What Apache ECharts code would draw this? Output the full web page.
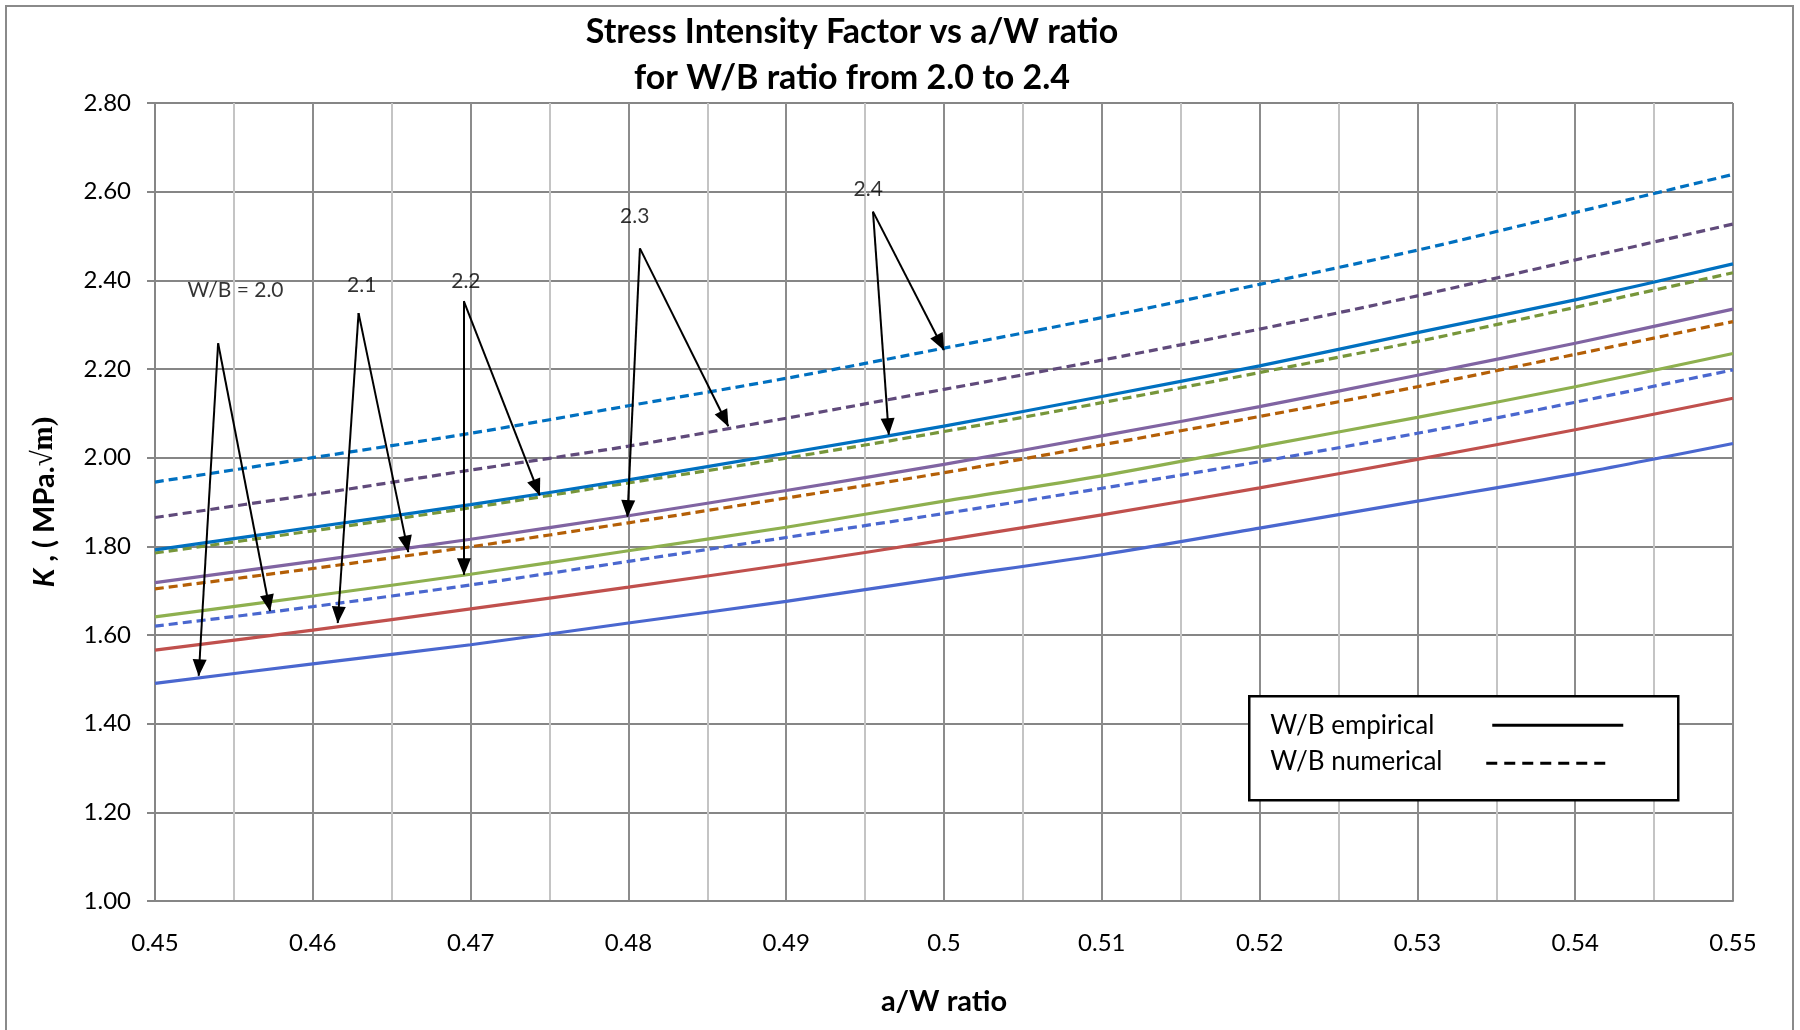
<!DOCTYPE html>
<html>
<head>
<meta charset="utf-8">
<script src="https://cdn.jsdelivr.net/npm/echarts@6/dist/echarts.min.js"></script>
<style>
	html, body { margin: 0; padding: 0; background: #fff; }
	#main { width: 1800px; height: 1030px; }
</style>
</head>
<body>
<div id="main"></div>
<script>
	// a/W ratio
	var aw = [0.45, 0.46, 0.47, 0.48, 0.49, 0.50, 0.51, 0.52, 0.53, 0.54, 0.55];

	// K values, empirical (solid) and numerical (dashed), per W/B
	var emp20 = [1.491, 1.535, 1.578, 1.627, 1.676, 1.729, 1.781, 1.841, 1.902, 1.963, 2.032];
	var num20 = [1.620, 1.664, 1.713, 1.766, 1.820, 1.874, 1.931, 1.991, 2.055, 2.125, 2.198];
	var emp21 = [1.566, 1.611, 1.659, 1.708, 1.759, 1.814, 1.871, 1.932, 1.996, 2.063, 2.134];
	var num21 = [1.704, 1.750, 1.799, 1.853, 1.909, 1.966, 2.029, 2.093, 2.160, 2.233, 2.307];
	var emp22 = [1.641, 1.688, 1.737, 1.790, 1.843, 1.902, 1.959, 2.025, 2.091, 2.160, 2.235];
	var num22 = [1.785, 1.835, 1.887, 1.943, 1.999, 2.059, 2.124, 2.192, 2.262, 2.339, 2.417];
	var emp23 = [1.718, 1.766, 1.816, 1.869, 1.926, 1.985, 2.049, 2.115, 2.186, 2.258, 2.335];
	var num23 = [1.865, 1.917, 1.972, 2.026, 2.089, 2.154, 2.220, 2.290, 2.365, 2.446, 2.527];
	var emp24 = [1.792, 1.843, 1.894, 1.950, 2.010, 2.071, 2.138, 2.207, 2.282, 2.356, 2.437];
	var num24 = [1.945, 2.000, 2.055, 2.117, 2.179, 2.247, 2.316, 2.391, 2.468, 2.553, 2.639];

	// annotation labels [x, y, text]
	var noteLabels = [
		[0.4551, 2.377, 'W/B = 2.0'],
		[0.4631, 2.389, '2.1'],
		[0.4697, 2.398, '2.2'],
		[0.4804, 2.544, '2.3'],
		[0.4952, 2.605, '2.4']
	];
	// arrows: apex -> tip on the empirical curve, apex -> tip on the numerical curve
	var noteArrows = [
		[[0.4540, 2.258], [0.45277, 1.508], [0.45729, 1.654]],
		[[0.4629, 2.326], [0.46158, 1.627], [0.46605, 1.787]],
		[[0.46957, 2.353], [0.46958, 1.736], [0.47438, 1.915]],
		[[0.48073, 2.472], [0.47994, 1.867], [0.48633, 2.071]],
		[[0.4955, 2.555], [0.4965, 2.052], [0.5000, 2.243]]
	];

	var font = 'Lato, "Open Sans", sans-serif';

	function pairs(ys) {
		var out = [];
		for (var i = 0; i < aw.length; i++) {
			out.push([aw[i], ys[i]]);
		}
		return out;
	}

	function curve(name, ys, color, dashed) {
		return {
			name: name,
			type: 'line',
			data: pairs(ys),
			smooth: 0.3,
			showSymbol: false,
			silent: true,
			lineStyle: {
				color: color,
				width: 3.2,
				type: dashed ? [9, 5] : 'solid'
			}
		};
	}

	var arrowLines = [];
	for (var i = 0; i < noteArrows.length; i++) {
		var a = noteArrows[i];
		arrowLines.push([{ coord: a[0] }, { coord: a[1] }]);
		arrowLines.push([{ coord: a[0] }, { coord: a[2] }]);
	}

	var chart = echarts.init(document.getElementById('main'));
	var option = {
		animation: false,
		backgroundColor: '#fff',
		title: {
			text: 'Stress Intensity Factor vs a/W ratio\nfor W/B ratio from 2.0 to 2.4',
			left: 852,
			top: 9,
			padding: 0,
			textAlign: 'center',
			textStyle: {
				fontFamily: font,
				fontWeight: 'bold',
				fontSize: 34,
				lineHeight: 46,
				color: '#000'
			}
		},
		grid: {
			left: 155,
			top: 103,
			width: 1578,
			height: 798,
			containLabel: false
		},
		xAxis: {
			type: 'value',
			min: 0.45,
			max: 0.55,
			interval: 0.01,
			name: 'a/W ratio',
			nameLocation: 'middle',
			nameGap: 86,
			nameTextStyle: {
				fontFamily: font,
				fontWeight: 'bold',
				fontSize: 29,
				color: '#000'
			},
			axisLine: { show: true, lineStyle: { color: '#868686', width: 2 } },
			axisTick: { show: false },
			axisLabel: {
				margin: 30,
				fontFamily: font,
				fontSize: 24,
				color: '#000',
				formatter: function(v) {
					return String(+v.toFixed(2));
				}
			},
			splitLine: { show: true, lineStyle: { color: '#8c8c8c', width: 2 } },
			minorTick: { show: false, splitNumber: 2 },
			minorSplitLine: { show: true, lineStyle: { color: '#c4c4c4', width: 2 } }
		},
		yAxis: {
			type: 'value',
			min: 1.0,
			max: 2.8,
			interval: 0.2,
			name: '{k|K}{b| , ( MPa.}{s|√m)}',
			nameLocation: 'middle',
			nameGap: 96,
			nameRotate: 90,
			nameTextStyle: {
				color: '#000',
				rich: {
					k: { fontFamily: font, fontWeight: 'bold', fontStyle: 'italic', fontSize: 29, color: '#000' },
					b: { fontFamily: font, fontWeight: 'bold', fontSize: 29, color: '#000' },
					s: { fontFamily: '"Liberation Serif", "DejaVu Serif", serif', fontWeight: 'bold', fontSize: 29, color: '#000' }
				}
			},
			axisLine: { show: true, lineStyle: { color: '#868686', width: 2 } },
			axisTick: { show: true, length: 8, lineStyle: { color: '#868686', width: 2 } },
			axisLabel: {
				margin: 24,
				fontFamily: font,
				fontSize: 24,
				color: '#000',
				formatter: function(v) {
					return v.toFixed(2);
				}
			},
			splitLine: { show: true, lineStyle: { color: '#868686', width: 2 } }
		},
		series: [
			curve('W/B 2.0 empirical', emp20, '#4a67cf', false),
			curve('W/B 2.1 empirical', emp21, '#c0504d', false),
			curve('W/B 2.0 numerical', num20, '#4a67cf', true),
			curve('W/B 2.2 empirical', emp22, '#8eb04f', false),
			curve('W/B 2.1 numerical', num21, '#b45f06', true),
			curve('W/B 2.3 empirical', emp23, '#8064a2', false),
			curve('W/B 2.2 numerical', num22, '#77963a', true),
			curve('W/B 2.4 empirical', emp24, '#0070c0', false),
			curve('W/B 2.3 numerical', num23, '#604a7b', true),
			curve('W/B 2.4 numerical', num24, '#0070c0', true),
			{
				name: 'notes',
				type: 'scatter',
				silent: true,
				symbolSize: 0,
				z: 5,
				data: noteLabels.map(function(n) {
					return { value: [n[0], n[1]], name: n[2] };
				}),
				label: {
					show: true,
					position: 'inside',
					formatter: '{b}',
					fontFamily: font,
					fontSize: 21,
					color: '#000'
				},
				markLine: {
					silent: true,
					animation: false,
					symbol: ['none', 'triangle'],
					symbolSize: [14, 17],
					symbolOffset: [[0, 0], [0, 8]],
					label: { show: false },
					lineStyle: { color: '#000', width: 2, type: 'solid' },
					emphasis: { disabled: true },
					data: arrowLines
				}
			}
		],
		graphic: [
			{
				type: 'rect',
				shape: { x: 6, y: 6, width: 1787, height: 1040 },
				style: { fill: null, stroke: '#8a8a8a', lineWidth: 2 },
				silent: true
			},
			{
				type: 'group',
				left: 1248,
				top: 695,
				z: 100,
				children: [
					{
						type: 'rect',
						z: 100,
						shape: { x: 0, y: 0, width: 429, height: 104 },
						style: { fill: '#fff', stroke: '#000', lineWidth: 2.5 }
					},
					{
						type: 'text',
						z: 101,
						x: 21, y: 29,
						style: { text: 'W/B empirical', fontFamily: font, fontSize: 26, fill: '#000', verticalAlign: 'middle' }
					},
					{
						type: 'text',
						z: 101,
						x: 21, y: 65,
						style: { text: 'W/B numerical', fontFamily: font, fontSize: 26, fill: '#000', verticalAlign: 'middle' }
					},
					{
						type: 'line',
						z: 101,
						shape: { x1: 243, y1: 29, x2: 374, y2: 29 },
						style: { stroke: '#000', lineWidth: 3 }
					},
					{
						type: 'line',
						z: 101,
						shape: { x1: 237, y1: 67, x2: 359, y2: 67 },
						style: { stroke: '#000', lineWidth: 3, lineDash: [11, 7] }
					}
				]
			}
		]
	};
	chart.setOption(option);
</script>
</body>
</html>
